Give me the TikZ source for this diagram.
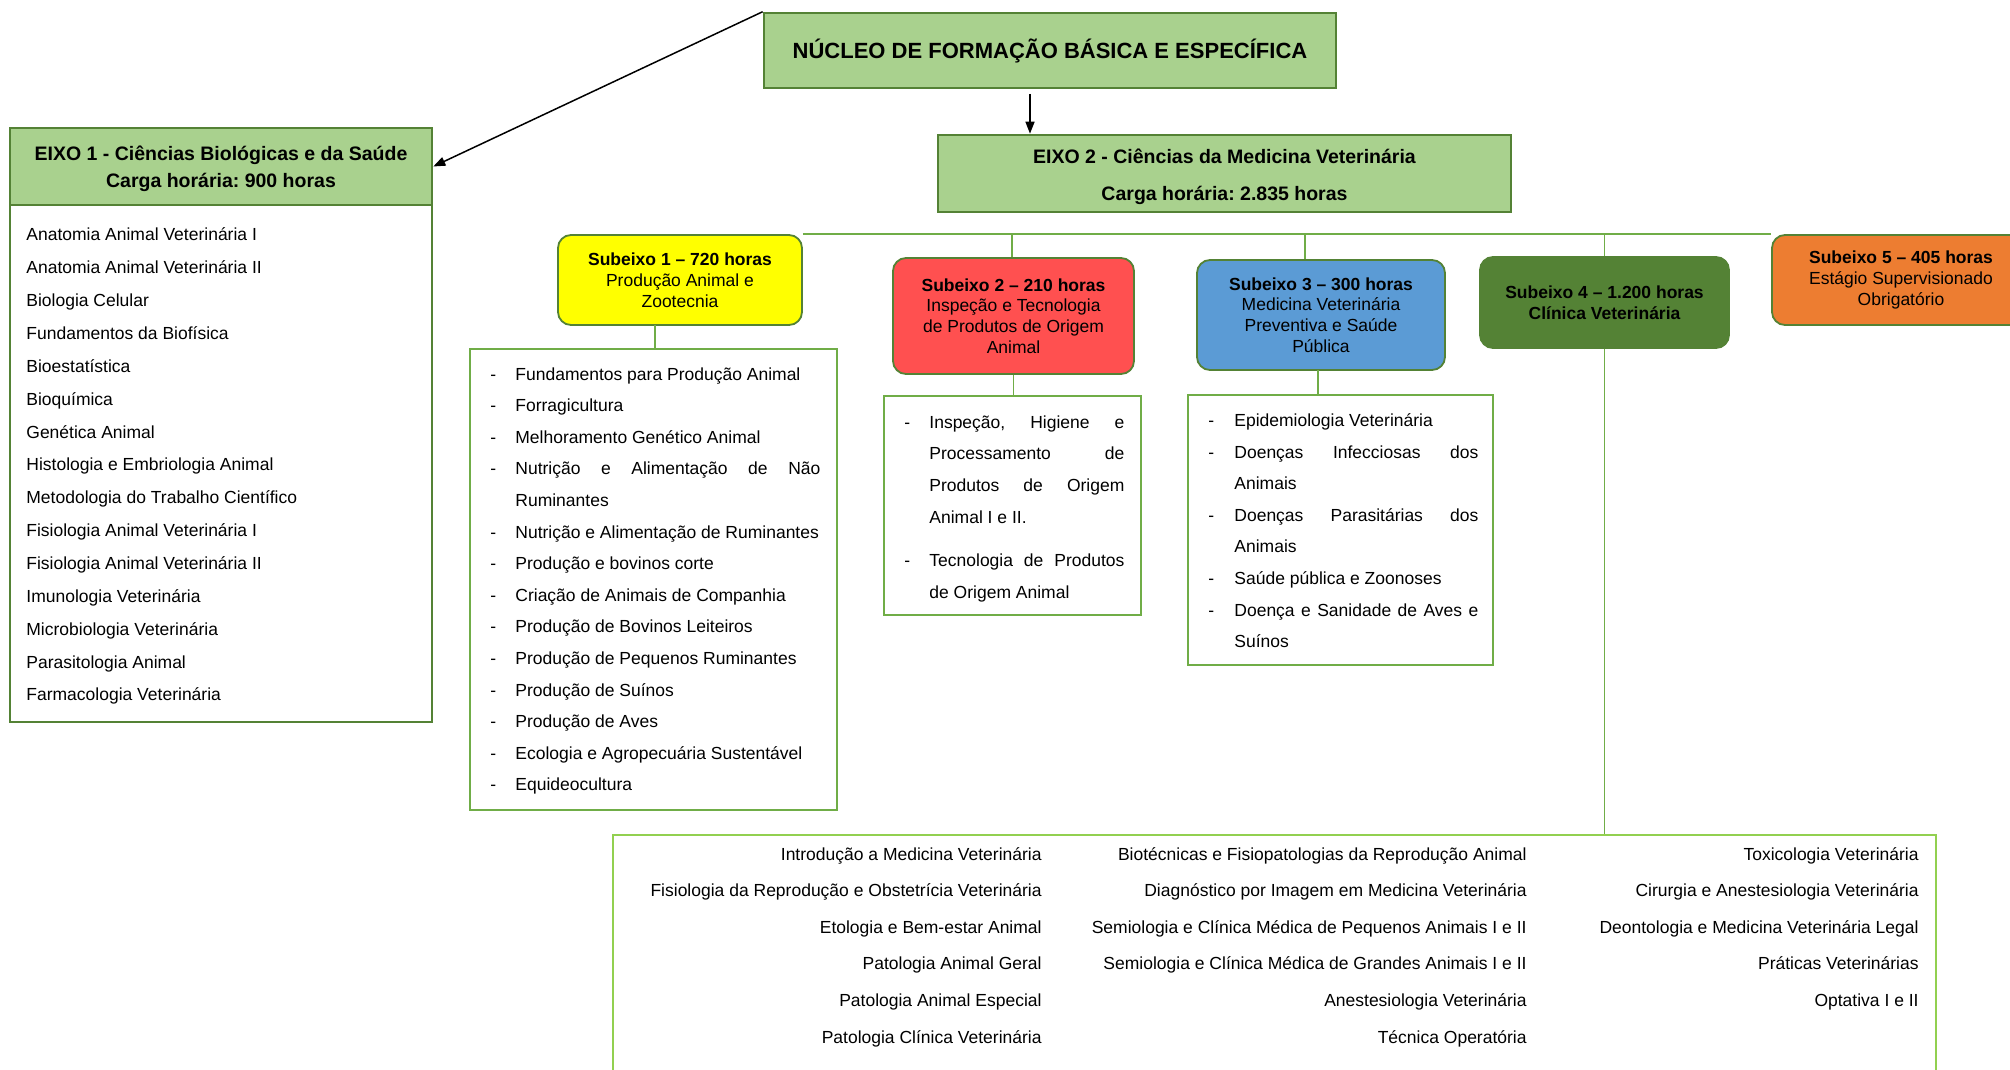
\documentclass[tikz,border=0pt]{standalone}
\usepackage{fontspec}
\setmainfont{Liberation Sans}
\usetikzlibrary{fit,arrows.meta}
\definecolor{hdrfill}{HTML}{A9D18E}
\definecolor{hdrline}{HTML}{548235}
\definecolor{lgreen}{HTML}{70AD47}
\definecolor{bgreen}{HTML}{92D050}
\definecolor{syellow}{HTML}{FFFF00}
\definecolor{sred}{HTML}{FF5050}
\definecolor{sblue}{HTML}{5B9BD5}
\definecolor{sdgreen}{HTML}{548235}
\definecolor{sorange}{HTML}{ED7D31}
\newcommand{\jline}[2]{\makebox[#1][s]{#2}}
\frenchspacing
\begin{document}
\begin{tikzpicture}[x=0.5pt,y=-0.5pt,
  hdr/.style={draw=hdrline, fill=hdrfill, line width=1.3pt, inner sep=0pt},
  hdrtxt/.style={inner sep=0pt, align=center, anchor=center, font=\fontsize{9.75}{13.5}\selectfont\bfseries},
  listbox/.style={draw=lgreen, line width=1pt, inner sep=0pt},
  sub/.style={draw=hdrline, line width=0.9pt, rounded corners=6.5pt, inner sep=0pt},
  subtxt/.style={inner sep=0pt, align=center, anchor=center, font=\fontsize{8.75}{10.4}\selectfont},
  item/.style={anchor=base west, inner sep=0pt, font=\fontsize{8.75}{10.5}\selectfont},
  ritem/.style={anchor=base east, inner sep=0pt, font=\fontsize{8.75}{10.5}\selectfont},
  conn/.style={draw=lgreen, line width=0.75pt},
  arr/.style={-{Triangle[length=6pt,width=4.5pt]}, line width=0.75pt, draw=black}
]
\useasboundingbox (0,0) rectangle (2010,1070);

% ---------- top ----------
\node[hdr, fit={(764,13) (1336,88)}] (nucleo) {};
\node[hdrtxt, font=\fontsize{11}{13}\selectfont\bfseries] (nucleo-t) at (nucleo.center)
  {NÚCLEO DE FORMAÇÃO BÁSICA E ESPECÍFICA};

% ---------- EIXO 1 ----------
\node[listbox, draw=hdrline, fit={(10,205) (432,722)}] (eixo1l) {};
\node[hdr, fit={(10,128) (432,205)}] (eixo1h) {};
\node[hdrtxt] (eixo1h-t) at ([yshift=-1pt]eixo1h.center)
  {EIXO 1 - Ciências Biológicas e da Saúde\\Carga horária: 900 horas};
\foreach \t [count=\i from 0] in {Anatomia Animal Veterinária I, Anatomia Animal Veterinária II,
  Biologia Celular, Fundamentos da Biofísica, Bioestatística, Bioquímica, Genética Animal,
  Histologia e Embriologia Animal, Metodologia do Trabalho Científico,
  Fisiologia Animal Veterinária I, Fisiologia Animal Veterinária II, Imunologia Veterinária,
  Microbiologia Veterinária, Parasitologia Animal, Farmacologia Veterinária}
  \node[item] (e1i\i) at (26,{241+32.85*\i}) {\t};

\draw[arr] (nucleo.north west) -- (eixo1h.east);

% ---------- EIXO 2 ----------
\node[hdr, fit={(938,135) (1511,212)}] (eixo2) {};
\node[hdrtxt, font=\fontsize{9.75}{18.5}\selectfont\bfseries] (eixo2-t) at ([yshift=-1.5pt]eixo2.center)
  {EIXO 2 - Ciências da Medicina Veterinária\\Carga horária: 2.835 horas};
\coordinate (a2) at (1030,94);
\draw[arr] (a2) -- (a2 |- eixo2.north);

% ---------- Subeixos ----------
\node[sub, fill=syellow, fit={(558,235) (802,325)}] (sub1) {};
\node[subtxt] (sub1-t) at (sub1.center)
  {\textbf{Subeixo 1 – 720 horas}\\Produção Animal e\\Zootecnia};
\node[sub, fill=sred, fit={(893,258) (1134,374)}] (sub2) {};
\node[subtxt] (sub2-t) at (sub2.center)
  {\textbf{Subeixo 2 – 210 horas}\\Inspeção e Tecnologia\\de Produtos de Origem\\Animal};
\node[sub, fill=sblue, fit={(1197,260) (1445,370)}] (sub3) {};
\node[subtxt] (sub3-t) at (sub3.center)
  {\textbf{Subeixo 3 – 300 horas}\\Medicina Veterinária\\Preventiva e Saúde\\Pública};
\node[sub, fill=sdgreen, fit={(1480,257) (1729,348)}] (sub4) {};
\node[subtxt, font=\fontsize{8.75}{10.4}\selectfont\bfseries] (sub4-t) at (sub4.center)
  {Subeixo 4 – 1.200 horas\\Clínica Veterinária};
\node[sub, fill=sorange, fit={(1772,235) (2030,325)}] (sub5) {};
\node[subtxt] (sub5-t) at (1901,280)
  {\textbf{Subeixo 5 – 405 horas}\\Estágio Supervisionado\\Obrigatório};

% horizontal connector
\draw[conn] (sub1.north east) -- (sub5.north west);
\coordinate (t2) at (1012,235);
\coordinate (t3) at (1305,235);
\coordinate (t4) at (sub4.north |- sub1.north);
\draw[conn] (t2) -- (t2 |- sub2.north);
\draw[conn] (t3) -- (t3 |- sub3.north);
\draw[conn] (t4) -- (sub4.north);

% ---------- Subeixo 1 list ----------
\node[listbox, fit={(470,349) (837,810)}] (l1) {};
\coordinate (b1) at (655,325);
\draw[conn] (b1) -- (b1 |- l1.north);
\foreach \k/\t in {0/Fundamentos para Produção Animal, 1/Forragicultura, 2/Melhoramento Genético Animal,
  5/Nutrição e Alimentação de Ruminantes, 6/Produção e bovinos corte,
  7/Criação de Animais de Companhia, 8/Produção de Bovinos Leiteiros,
  9/Produção de Pequenos Ruminantes, 10/Produção de Suínos, 11/Produção de Aves,
  12/Ecologia e Agropecuária Sustentável, 13/Equideocultura}
  \node[item] (l1t\k) at (515,{380+31.6*\k}) {\t};
\node[item] (l1t3) at (515,{380+31.6*3}) {\jline{152.5pt}{Nutrição e Alimentação de Não}};
\node[item] (l1t4) at (515,{380+31.6*4}) {Ruminantes};
\foreach \k in {0,1,2,3,5,6,7,8,9,10,11,12,13}
  \node[item] (l1d\k) at (490,{380+31.6*\k}) {-};

% ---------- Subeixo 2 list ----------
\node[listbox, fit={(884,396) (1141,615)}] (l2) {};
\draw[conn] (sub2.south) -- (sub2.south |- l2.north);
\node[item] (l2d1) at (904,428) {-};
\node[item] (l2a) at (929,428) {\jline{97.5pt}{Inspeção, Higiene e}};
\node[item] (l2b) at (929,459) {\jline{97.5pt}{Processamento de}};
\node[item] (l2c) at (929,491) {\jline{97.5pt}{Produtos de Origem}};
\node[item] (l2e) at (929,523) {Animal I e II.};
\node[item] (l2d2) at (904,566) {-};
\node[item] (l2f) at (929,566) {\jline{97.5pt}{Tecnologia de Produtos}};
\node[item] (l2g) at (929,598) {de Origem Animal};

% ---------- Subeixo 3 list ----------
\node[listbox, fit={(1188,395) (1493,665)}] (l3) {};
\coordinate (b3) at (1318,370);
\draw[conn] (b3) -- (b3 |- l3.north);
\node[item] (l3a) at (1234,426) {Epidemiologia Veterinária};
\node[item] (l3b) at (1234,458) {\jline{122pt}{Doenças Infecciosas dos}};
\node[item] (l3c) at (1234,489) {Animais};
\node[item] (l3e) at (1234,521) {\jline{122pt}{Doenças Parasitárias dos}};
\node[item] (l3f) at (1234,552) {Animais};
\node[item] (l3g) at (1234,584) {Saúde pública e Zoonoses};
\node[item] (l3h) at (1234,616) {\jline{122pt}{Doença e Sanidade de Aves e}};
\node[item] (l3i) at (1234,647) {Suínos};
\foreach \y [count=\i] in {426,458,521,584,616}
  \node[item] (l3d\i) at (1208,\y) {-};

% ---------- Bottom box (Subeixo 4) ----------
\node[listbox, draw=bgreen, fit={(613,835) (1936,1095)}] (bot) {};
\draw[conn] (sub4.south) -- (sub4.south |- bot.north);
\foreach \t [count=\i from 0] in {Introdução a Medicina Veterinária,
  Fisiologia da Reprodução e Obstetrícia Veterinária, Etologia e Bem-estar Animal,
  Patologia Animal Geral, Patologia Animal Especial, Patologia Clínica Veterinária}
  \node[ritem] (ba\i) at (1042,{860+36.6*\i}) {\t};
\foreach \t [count=\i from 0] in {Biotécnicas e Fisiopatologias da Reprodução Animal,
  Diagnóstico por Imagem em Medicina Veterinária,
  Semiologia e Clínica Médica de Pequenos Animais I e II,
  Semiologia e Clínica Médica de Grandes Animais I e II,
  Anestesiologia Veterinária, Técnica Operatória}
  \node[ritem] (bb\i) at (1527,{860+36.6*\i}) {\t};
\foreach \t [count=\i from 0] in {Toxicologia Veterinária, Cirurgia e Anestesiologia Veterinária,
  Deontologia e Medicina Veterinária Legal, Práticas Veterinárias, Optativa I e II}
  \node[ritem] (bc\i) at (1919,{860+36.6*\i}) {\t};
\end{tikzpicture}
\end{document}
